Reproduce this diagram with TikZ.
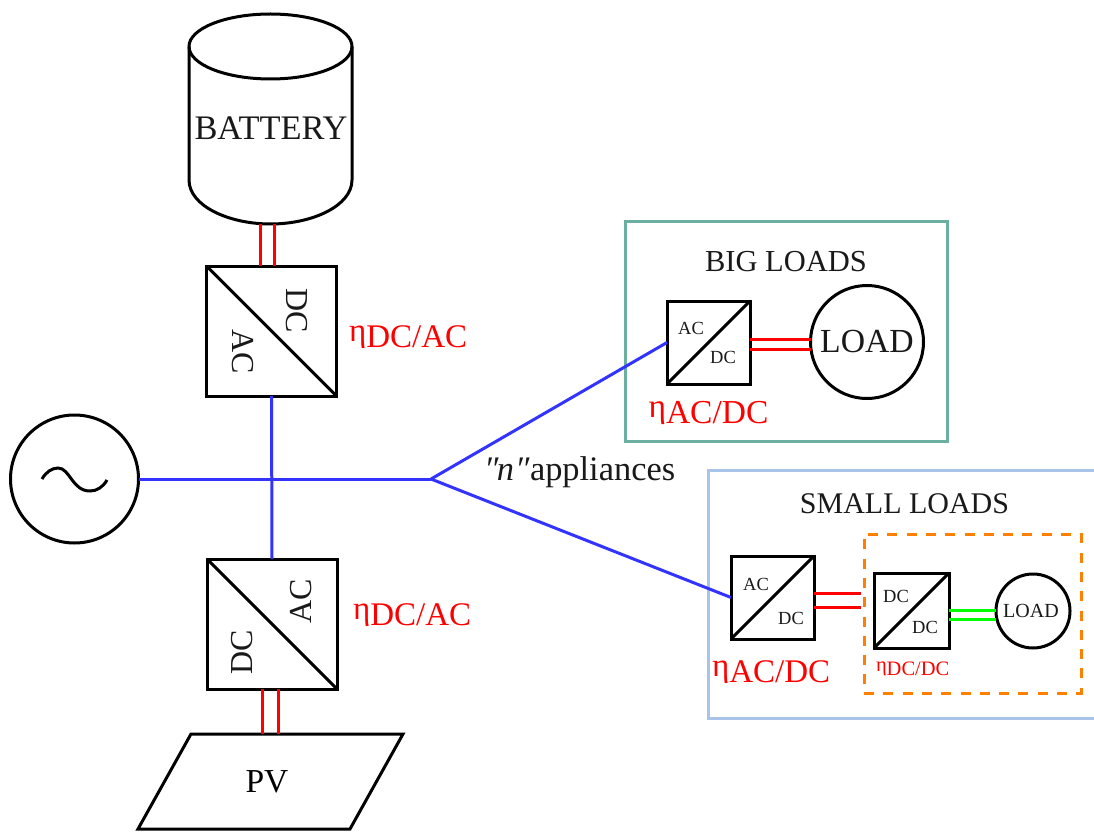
\documentclass[tikz,border=0pt]{standalone}
\usepackage{fontspec}
\setmainfont{Liberation Serif}
\definecolor{bigc}{HTML}{6BAFA0}
\definecolor{smallc}{HTML}{A9C4E9}
\definecolor{orangec}{HTML}{FF8000}
\definecolor{bluec}{HTML}{3333FF}
\definecolor{redc}{HTML}{FF0000}
\definecolor{greenc}{HTML}{00FF00}
\newcommand{\fsz}[1]{\fontsize{#1}{#1}\selectfont}
\newcommand{\etalab}[1]{\raisebox{0.17em}{η}#1}
\tikzset{
  x=1pt,y=-1pt,
  blk/.style={draw=black,line width=3pt,line join=miter},
  conv/.style={blk,fill=white,inner sep=0pt,outer sep=0pt,minimum width=#1,minimum height=#1},
  diagline/.style={black,line width=3pt},
  circ/.style={blk,fill=white,circle,inner sep=0pt,outer sep=0pt,minimum size=#1},
  txt/.style={inner sep=0pt,outer sep=0pt,text=black!90,anchor=center},
  lab/.style={inner sep=0pt,outer sep=0pt,text=redc,anchor=base west},
  redw/.style={draw=redc,line width=3pt},
  greenw/.style={draw=greenc,line width=3pt},
  bluew/.style={draw=bluec,line width=3pt},
}
\begin{document}
\begin{tikzpicture}
\useasboundingbox (0,0) rectangle (1094,834);
% group frames
\node[draw=bigc,line width=3pt,inner sep=0pt,outer sep=0pt,minimum width=322,minimum height=219] (bigbox) at (786,331.5) {};
\draw[draw=smallc,line width=3pt] (1094,470) -- (708,470) -- (708,718) -- (1094,718);
\node[draw=orangec,line width=3pt,dash pattern=on 10pt off 9.3pt,inner sep=0pt,outer sep=0pt,minimum width=217,minimum height=159] (dashbox) at (972.5,613.5) {};
% battery
\node[inner sep=0pt,outer sep=0pt,minimum width=163,minimum height=210] (bat) at (270.5,119) {};
\draw[blk,fill=white] (bat.west |- 0,46.5) arc[start angle=180,end angle=0,x radius=81.5,y radius=-32.5] -- (bat.east |- 0,180)
  .. controls (352,206) and (312,224) .. (270.5,224) .. controls (229,224) and (189,206) .. (189,180) -- cycle;
\draw[blk] (bat.west |- 0,46.5) arc[start angle=180,end angle=360,x radius=81.5,y radius=-32.5];
\node[txt,anchor=base] at (271,140) {\fsz{34.4}BATTERY};
% converters
\node[conv=130] (c1) at (271.5,331) {};
\draw[diagline] (c1.north west) -- (c1.south east);
\node[txt,rotate=-90] at (297,311) {\fsz{32}DC};
\node[txt,rotate=-90] at (243,352) {\fsz{32}AC};
\node[conv=130] (c2) at (272,624) {};
\draw[diagline] (c2.north west) -- (c2.south east);
\node[txt,rotate=90] at (301,601) {\fsz{32}AC};
\node[txt,rotate=90] at (242,652) {\fsz{32}DC};
\node[conv=83] (c3) at (708.5,342.5) {};
\draw[diagline] (c3.south west) -- (c3.north east);
\node[txt] at (691,328) {\fsz{18.5}AC};
\node[txt] at (723,357) {\fsz{18.5}DC};
\node[conv=83] (c4) at (772.5,597.5) {};
\draw[diagline] (c4.south west) -- (c4.north east);
\node[txt] at (756,584) {\fsz{18.5}AC};
\node[txt] at (791,618) {\fsz{18.5}DC};
\node[conv=75] (c5) at (911.5,610.5) {};
\draw[diagline] (c5.south west) -- (c5.north east);
\node[txt] at (896,596) {\fsz{18.5}DC};
\node[txt] at (925,627) {\fsz{18.5}DC};
% circles
\node[circ=128] (src) at (74.5,479) {};
\draw[black,line width=3pt] (42,479) .. controls (46,472) and (52,468) .. (58,468) .. controls (70,468) and (72,491) .. (90,491) .. controls (97,491) and (103,487) .. (107,480);
\node[circ=113,text=black!90] (bigl) at (867,342) {\fsz{33.7}LOAD};
\node[circ=74,text=black!90] (smalll) at (1033,611) {\fsz{20}LOAD\kern4pt};
% PV
\node[inner sep=0pt,outer sep=0pt,minimum width=265,minimum height=95] (pv) at (270.5,781.5) {\fsz{33.5}\hspace*{-7pt}PV};
\draw[blk] (191,734) -- (403,734) -- (350,829) -- (138,829) -- cycle;
% wires
\coordinate (hub) at (431,479);
\draw[bluew] (src.east) -- (hub);
\draw[bluew] (c1.south) -- (c2.north);
\draw[bluew] (hub) -- (c3.west);
\draw[bluew] (hub) -- (c4.west);
\draw[redw] ([xshift=-11pt]c1.north |- bat.south) -- ([xshift=-11pt]c1.north);
\draw[redw] ([xshift=3pt]c1.north |- bat.south) -- ([xshift=3pt]c1.north);
\draw[redw] ([xshift=-10pt]c2.south) -- ([xshift=-10pt]c2.south |- 0,734);
\draw[redw] ([xshift=6pt]c2.south) -- ([xshift=6pt]c2.south |- 0,734);
\draw[redw] ([yshift=3.5pt]c3.east) -- ([yshift=3pt]bigl.west);
\draw[redw] ([yshift=-6.5pt]c3.east) -- ([yshift=-7pt]bigl.west);
\draw[redw] ([yshift=4.5pt]c4.east) -- ([yshift=4.5pt,xshift=-3pt]dashbox.west |- c4.east);
\draw[redw] ([yshift=-9.5pt]c4.east) -- ([yshift=-9.5pt,xshift=-3pt]dashbox.west |- c4.east);
\draw[greenw] ([yshift=1pt]c5.east |- smalll.west) -- ([yshift=1pt]smalll.west);
\draw[greenw] ([yshift=-8pt]c5.east |- smalll.west) -- ([yshift=-8pt]smalll.west);
% labels
\node[txt,anchor=base] at (786,271) {\fsz{30.5}BIG LOADS};
\node[txt,anchor=base] at (904.5,513) {\fsz{30}SMALL LOADS};
\node[txt,anchor=base west] at (487,480) {\fsz{34.4}\makebox[43pt][l]{\textit{\kern-3pt ″\kern-1.5pt n\kern1pt ″}}appliances};
\node[lab] at (349,347) {\fsz{33}\etalab{DC/AC}};
\node[lab] at (353,625) {\fsz{33}\etalab{DC/AC}};
\node[lab] at (648.5,423) {\fsz{33.5}\etalab{AC/DC}};
\node[lab] at (712,682) {\fsz{33}\etalab{AC/DC}};
\node[lab] at (876,675) {\fsz{20.5}\etalab{DC/DC}};
\end{tikzpicture}
\end{document}
